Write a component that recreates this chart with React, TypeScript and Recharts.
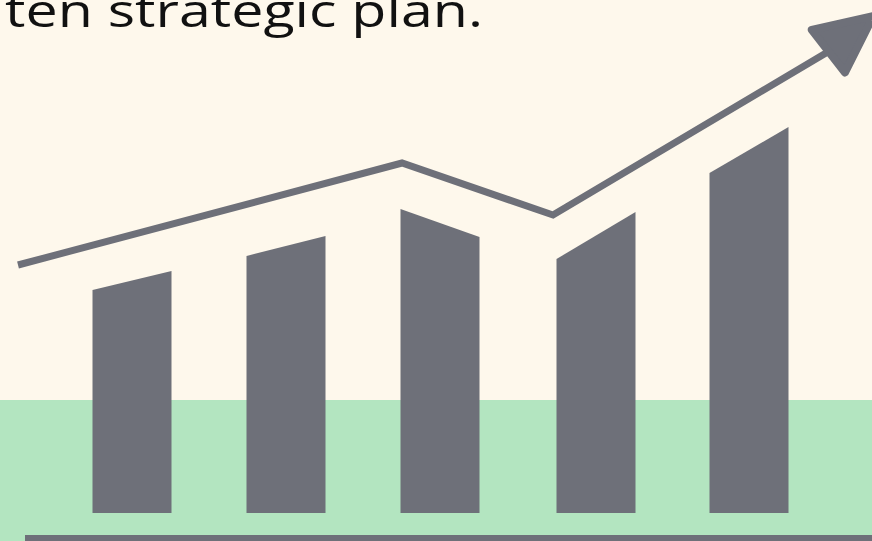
import { ComposedChart, Bar, Line, XAxis, YAxis, ReferenceArea } from 'recharts';

// bar centres (px-like x units) and heights of the left / right top corners
const barX = [132, 286, 440, 596, 749];
const barLeft = [223, 257, 304, 254, 340];
const barRight = [242, 277, 276, 301, 386];

// trend line with arrow at the end
const lineX = [18, 402, 553, 826];
const lineY = [248, 350, 298, 460];

const title = 'ten strategic plan.';

const GRAY = '#6e7079';
const CREAM = '#fef8ec';
const GREEN = '#b3e5c0';

const barData = barX.map((x, i) => ({
  x,
  left: barLeft[i],
  right: barRight[i],
  high: Math.max(barLeft[i], barRight[i]),
}));

const lineData = lineX.map((x, i) => ({ x, y: lineY[i] }));

const SlantBar = (props: any) => {
  const { x, y, width, height, payload } = props;
  if (!payload || !height) return <g />;
  const bottom = y + height;
  const k = height / payload.high;
  const yl = bottom - payload.left * k;
  const yr = bottom - payload.right * k;
  return (
    <polygon
      points={`${x},${bottom} ${x},${yl} ${x + width},${yr} ${x + width},${bottom}`}
      fill={GRAY}
    />
  );
};

const ArrowDot = (props: any) => {
  const { cx, cy, index } = props;
  if (index !== lineData.length - 1) return <g key={`d-${index}`} />;
  return (
    <polygon
      key="arrow"
      points="60,0 3,-27 3,27"
      fill={GRAY}
      stroke={GRAY}
      strokeWidth={8}
      strokeLinejoin="round"
      transform={`translate(${cx},${cy}) rotate(-38)`}
    />
  );
};

export default function App() {
  return (
    <div
      style={{
        position: 'absolute',
        left: 0,
        top: 0,
        width: 872,
        height: 541,
        overflow: 'hidden',
        background: CREAM,
      }}
    >
      <ComposedChart
        width={872}
        height={541}
        data={barData}
        margin={{ top: 0, right: 0, bottom: 0, left: 0 }}
      >
        <XAxis xAxisId="b" dataKey="x" type="number" domain={[0, 872]} hide />
        <XAxis xAxisId="l" dataKey="x" type="number" domain={[0, 872]} hide />
        <YAxis type="number" domain={[-28, 513]} hide allowDataOverflow />
        <ReferenceArea xAxisId="b" x1={0} x2={872} y1={-28} y2={113} fill={GREEN} fillOpacity={1} stroke="none" />
        <ReferenceArea xAxisId="b" x1={25} x2={872} y1={-28} y2={-22} fill={GRAY} fillOpacity={1} stroke="none" />
        <Bar
          xAxisId="b"
          dataKey="high"
          barSize={79}
          shape={SlantBar}
          isAnimationActive={false}
        />
        <Line
          xAxisId="l"
          data={lineData}
          dataKey="y"
          type="linear"
          stroke={GRAY}
          strokeWidth={7}
          dot={ArrowDot}
          activeDot={false}
          isAnimationActive={false}
        />
        <text
          x={5}
          y={27}
          fontFamily="'Open Sans', sans-serif"
          fontSize={46}
          fill="#111"
          textLength={478}
          lengthAdjust="spacingAndGlyphs"
        >
          {title}
        </text>
      </ComposedChart>
    </div>
  );
}
